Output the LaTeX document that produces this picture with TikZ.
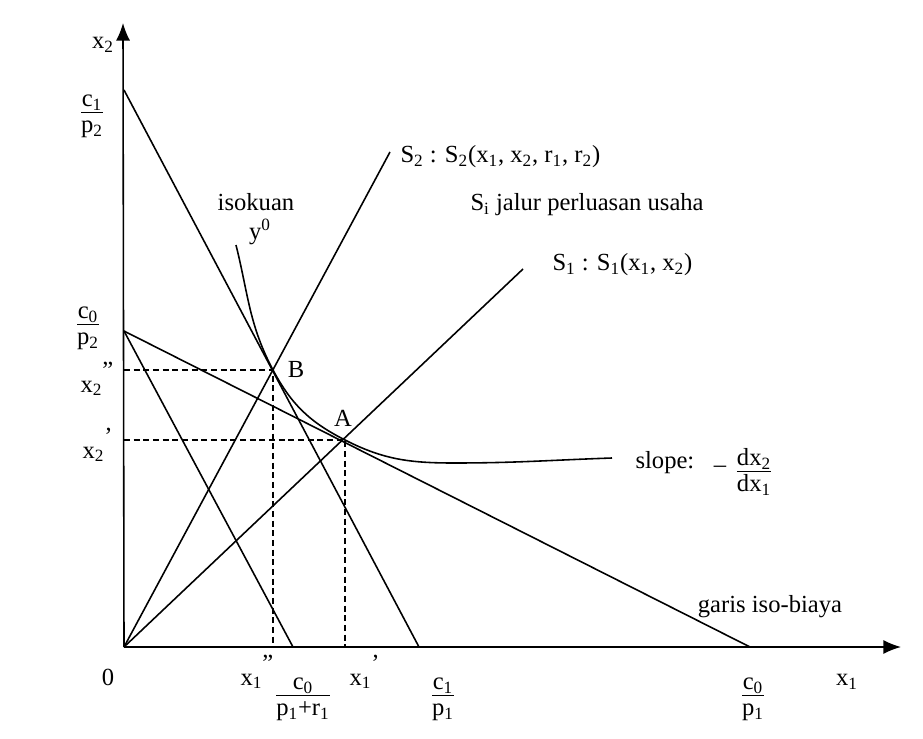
\documentclass[tikz,border=0pt]{standalone}
\usepackage{fontspec}
\setmainfont{Liberation Serif}
\usetikzlibrary{arrows.meta}
\newcommand{\frlabel}[2]{\begin{tabular}{@{}c@{}}#1\\[-2pt]\hline #2\end{tabular}}

\begin{document}
\begin{tikzpicture}[x=0.02cm, y=0.02cm, line width=0.9pt,
    font=\fontsize{14}{16}\selectfont,
    axis/.style={-{Latex[length=10pt,width=8pt]}},
    guide/.style={dash pattern=on 3.5pt off 2pt},
    lbl/.style={inner sep=1pt}]
    \useasboundingbox (-124,-91) rectangle (799,647);

    % Draw points
    \coordinate (O) at (0,0);
    \coordinate (ytip) at (-1,624);
    \coordinate (xtip) at (777,0);
    \coordinate (c1p2) at (0,557);
    \coordinate (c1p1) at (295,0);
    \coordinate (c0p2) at (0,316);
    \coordinate (c0p1) at (626,0);
    \coordinate (c0pr) at (169,0);
    \coordinate (B) at (149,277);
    \coordinate (A) at (221,207);
    \coordinate (s2end) at (266,495);
    \coordinate (s1end) at (399,378);
    \coordinate (qstart) at (112,402);
    \coordinate (qlow) at (330,184);
    \coordinate (qend) at (488,189);

    % Draw connections
    \draw[axis] (O) -- (xtip);
    \draw[axis] (O) -- (ytip);
    \draw (c1p2) -- (c1p1);
    \draw (c0p2) -- (c0p1);
    \draw (c0p2) -- (c0pr);
    \draw (O) -- (s2end);
    \draw (O) -- (s1end);
    \draw (qstart) to[out=-76,in=118] (B) to[out=-62,in=153] (A)
        to[out=-27,in=180] (qlow) to[out=0,in=182] (qend);
    \draw[guide] (B -| O) -- (B) -- (B |- O);
    \draw[guide] (A -| O) -- (A) -- (A |- O);

    % Labels
    \node[lbl] (lx2) at (-21,602) {x\textsubscript{2}};
    \node[lbl] (lc1p2) at (-32,533) {\frlabel{c\textsubscript{1}}{p\textsubscript{2}}};
    \node[lbl] (lc0p2) at (-36,321) {\frlabel{c\textsubscript{0}}{p\textsubscript{2}}};
    \node[lbl, anchor=base west] (lx2b) at (-46,255) {x\textsubscript{2}\raisebox{.55em}{”}};
    \node[lbl, anchor=base west] (lx2a) at (-44,189) {x\textsubscript{2}\raisebox{.55em}{’}};
    \node[lbl] (lzero) at (-16,-30) {0};
    \node[lbl, anchor=base west] (lx1b) at (114,-38) {x\textsubscript{1}\raisebox{.55em}{”}};
    \node[lbl] (lc0pr) at (179,-50) {\frlabel{c\textsubscript{0}}{p\textsubscript{1}+r\textsubscript{1}}};
    \node[lbl, anchor=base west] (lx1a) at (223,-38) {x\textsubscript{1}\raisebox{.55em}{’}};
    \node[lbl] (lc1p1) at (319,-50) {\frlabel{c\textsubscript{1}}{p\textsubscript{1}}};
    \node[lbl] (lc0p1) at (629,-50) {\frlabel{c\textsubscript{0}}{p\textsubscript{1}}};
    \node[lbl] (lx1) at (723,-35) {x\textsubscript{1}};

    \node[lbl] (liso) at (132,445) {isokuan};
    \node[lbl] (ly0) at (136,415) {y\textsuperscript{0}};
    \node[lbl] (lB) at (172,278) {B};
    \node[lbl] (lA) at (219,229) {A};
    \node[lbl, anchor=west] (lS2) at (274,490)
        {S\textsubscript{2} : S\textsubscript{2}(x\textsubscript{1}, x\textsubscript{2}, r\textsubscript{1}, r\textsubscript{2})};
    \node[lbl, anchor=west] (lSi) at (344,442) {S\textsubscript{i} jalur perluasan usaha};
    \node[lbl, anchor=west] (lS1) at (426,382)
        {S\textsubscript{1} : S\textsubscript{1}(x\textsubscript{1}, x\textsubscript{2})};
    \node[lbl, anchor=west] (lslope) at (509,184) {slope:\hspace{0.8em}\raisebox{-2pt}{–}};
    \node[lbl] (ldx) at (630,174) {\frlabel{dx\textsubscript{2}}{dx\textsubscript{1}}};
    \node[lbl] (lbiaya) at (646,40) {garis iso-biaya};
\end{tikzpicture}
\end{document}
